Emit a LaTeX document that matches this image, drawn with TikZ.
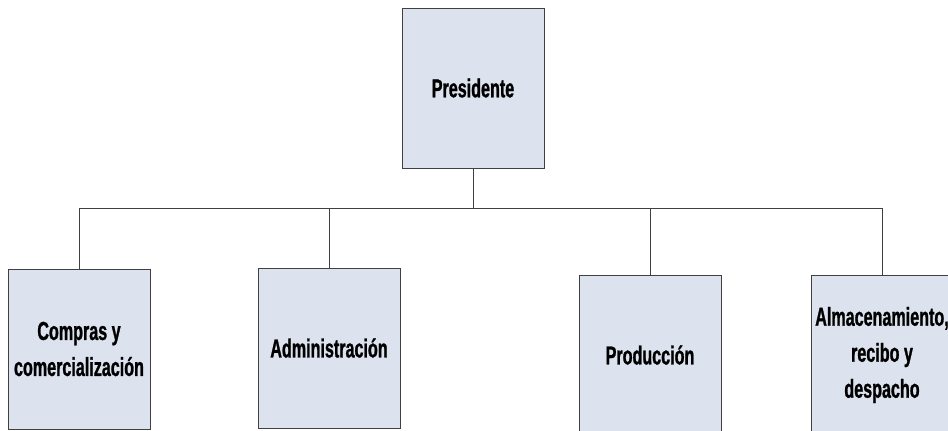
\documentclass[tikz,border=0pt]{standalone}
\usepackage{fontspec}
\setmainfont{Liberation Sans}[FakeStretch=0.62, BoldFeatures={FakeBold=1}]
\usetikzlibrary{positioning}

\definecolor{boxfill}{HTML}{DCE3EE}
\definecolor{boxline}{HTML}{404040}

\tikzset{
  unit/.style = {draw=boxline, line width=1pt, fill=boxfill, minimum width=142pt, minimum height=160pt,
                 inner sep=0pt, align=center, font=\fontsize{26}{36}\selectfont\bfseries},
  link/.style = {draw=boxline, line width=0.9pt}
}

\begin{document}
\begin{tikzpicture}[x=1pt, y=-1pt]
\useasboundingbox (0,0) rectangle (948,431);
\clip (0,0) rectangle (948,431);

\node[unit]  (pres)    at (473,88)  {Presidente};
\coordinate  (bus)     at (473,208);

\node[unit]  (compras) at (79,349)  {Compras y\\comercialización};
\node[unit]  (admin)   at (329,348) {Administración};
\node[unit]  (prod)    at (650,355) {Producción};
\node[unit]  (almac)   at (882,355) {Almacenamiento,\\recibo y\\despacho};

\draw[link] (pres.south) -- (bus);
\draw[link] (compras.north |- bus) -- (almac.north |- bus);
\foreach \n in {compras, admin, prod, almac}
  \draw[link] (\n.north |- bus) -- (\n.north);

\end{tikzpicture}
\end{document}
